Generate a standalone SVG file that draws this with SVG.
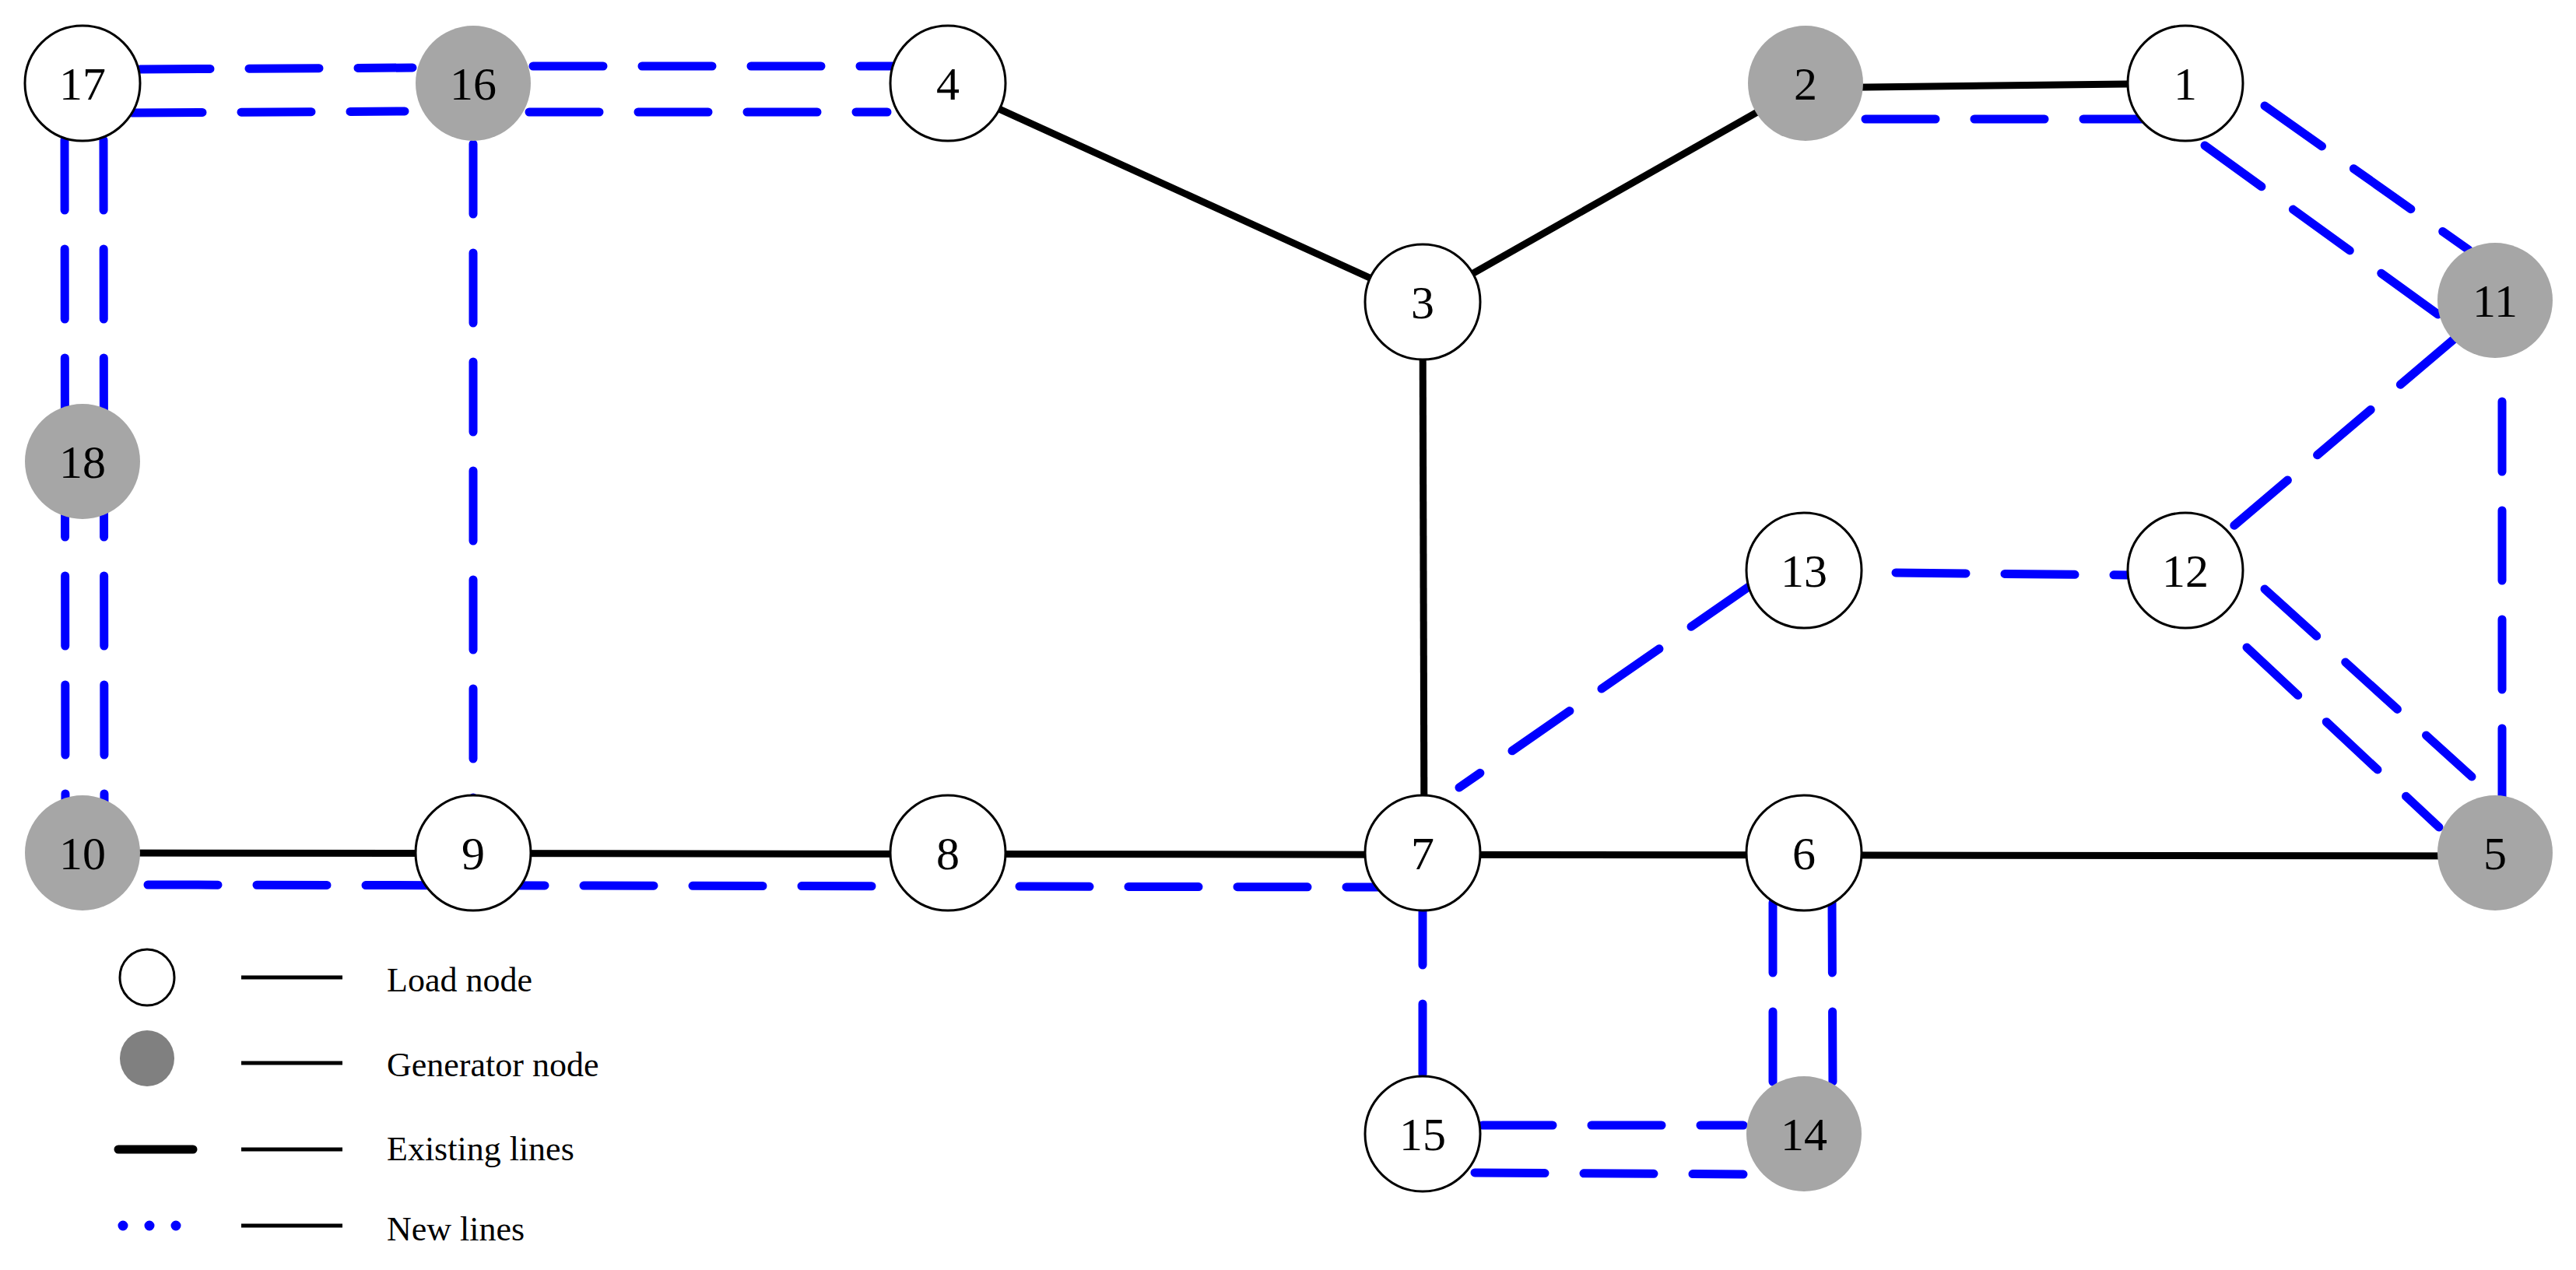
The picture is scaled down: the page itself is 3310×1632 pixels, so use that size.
<svg xmlns="http://www.w3.org/2000/svg" width="3310" height="1632" viewBox="0 0 3310 1632">
<style>
.ex{stroke:#000;stroke-width:9;fill:none}
.nw{stroke:#0000ff;stroke-width:11;fill:none;stroke-dasharray:90 50;stroke-linecap:round}
.ld{fill:#fff;stroke:#000;stroke-width:3}
.gn{fill:#a6a6a6;stroke:none}
.lb{font-family:"Liberation Serif",serif;font-size:60px;text-anchor:middle;fill:#000}
.lg{font-family:"Liberation Serif",serif;font-size:44px;fill:#000}
</style>
<rect width="3310" height="1632" fill="#fff"/>
<g id="connectors">
<line class="ex" x1="106" y1="1096" x2="3205" y2="1100"/>
<line class="ex" x1="1218" y1="110" x2="1828" y2="388"/>
<line class="ex" x1="1828" y1="388" x2="2318" y2="110"/>
<line class="ex" x1="1828" y1="388" x2="1830" y2="1096"/>
<line class="ex" x1="2318" y1="113" x2="2808" y2="107"/>
<line class="nw" x1="180" y1="89" x2="530" y2="87"/>
<line class="nw" x1="170" y1="145" x2="520" y2="143"/>
<line class="nw" x1="685" y1="85" x2="1160" y2="85"/>
<line class="nw" x1="680" y1="144" x2="1140" y2="144"/>
<line class="nw" x1="83" y1="180" x2="84" y2="1040"/>
<line class="nw" x1="133" y1="180" x2="134" y2="1040"/>
<line class="nw" x1="608" y1="185" x2="608" y2="1030"/>
<line class="nw" x1="190" y1="1137" x2="1780" y2="1140"/>
<line class="nw" x1="2397" y1="153" x2="2790" y2="153"/>
<line class="nw" x1="2910" y1="136" x2="3172" y2="321"/>
<line class="nw" x1="2833" y1="187" x2="3134" y2="405"/>
<line class="nw" x1="3153" y1="436" x2="2864" y2="681"/>
<line class="nw" x1="3215" y1="516" x2="3215" y2="1030"/>
<line class="nw" x1="2910" y1="757" x2="3176" y2="998"/>
<line class="nw" x1="2887" y1="832" x2="3134" y2="1063"/>
<line class="nw" x1="2436" y1="736" x2="2733" y2="739"/>
<line class="nw" x1="2247" y1="754" x2="1875" y2="1012"/>
<line class="nw" x1="1828" y1="1150" x2="1828" y2="1400"/>
<line class="nw" x1="2278" y1="1160" x2="2278" y2="1400"/>
<line class="nw" x1="2354" y1="1160" x2="2355" y2="1400"/>
<line class="nw" x1="1905" y1="1446" x2="2240" y2="1446"/>
<line class="nw" x1="1895" y1="1507" x2="2240" y2="1509"/>
</g>
<g id="n1"><circle class="ld" cx="2808" cy="107" r="74"/><text class="lb" x="2808" y="128">1</text></g>
<g id="n2"><circle class="gn" cx="2320" cy="107" r="74"/><text class="lb" x="2320" y="128">2</text></g>
<g id="n3"><circle class="ld" cx="1828" cy="388" r="74"/><text class="lb" x="1828" y="409">3</text></g>
<g id="n4"><circle class="ld" cx="1218" cy="107" r="74"/><text class="lb" x="1218" y="128">4</text></g>
<g id="n5"><circle class="gn" cx="3206" cy="1096" r="74"/><text class="lb" x="3206" y="1117">5</text></g>
<g id="n6"><circle class="ld" cx="2318" cy="1096" r="74"/><text class="lb" x="2318" y="1117">6</text></g>
<g id="n7"><circle class="ld" cx="1828" cy="1096" r="74"/><text class="lb" x="1828" y="1117">7</text></g>
<g id="n8"><circle class="ld" cx="1218" cy="1096" r="74"/><text class="lb" x="1218" y="1117">8</text></g>
<g id="n9"><circle class="ld" cx="608" cy="1096" r="74"/><text class="lb" x="608" y="1117">9</text></g>
<g id="n10"><circle class="gn" cx="106" cy="1096" r="74"/><text class="lb" x="106" y="1117">10</text></g>
<g id="n11"><circle class="gn" cx="3206" cy="386" r="74"/><text class="lb" x="3206" y="407">11</text></g>
<g id="n12"><circle class="ld" cx="2808" cy="733" r="74"/><text class="lb" x="2808" y="754">12</text></g>
<g id="n13"><circle class="ld" cx="2318" cy="733" r="74"/><text class="lb" x="2318" y="754">13</text></g>
<g id="n14"><circle class="gn" cx="2318" cy="1457" r="74"/><text class="lb" x="2318" y="1478">14</text></g>
<g id="n15"><circle class="ld" cx="1828" cy="1457" r="74"/><text class="lb" x="1828" y="1478">15</text></g>
<g id="n16"><circle class="gn" cx="608" cy="107" r="74"/><text class="lb" x="608" y="128">16</text></g>
<g id="n17"><circle class="ld" cx="106" cy="107" r="74"/><text class="lb" x="106" y="128">17</text></g>
<g id="n18"><circle class="gn" cx="106" cy="593" r="74"/><text class="lb" x="106" y="614">18</text></g>
<g id="legend">
<ellipse class="ld" cx="189" cy="1256" rx="35" ry="36"/>
<ellipse cx="189" cy="1360" rx="35" ry="36" fill="#808080"/>
<line x1="152" y1="1477" x2="248" y2="1477" stroke="#000" stroke-width="11" stroke-linecap="round"/>
<line x1="158" y1="1575" x2="238" y2="1575" stroke="#0000ff" stroke-width="13" stroke-linecap="round" stroke-dasharray="0 34"/>
<g stroke="#000" stroke-width="5">
<line x1="310" y1="1256" x2="440" y2="1256"/>
<line x1="310" y1="1366" x2="440" y2="1366"/>
<line x1="310" y1="1477" x2="440" y2="1477"/>
<line x1="310" y1="1575" x2="440" y2="1575"/>
</g>
<text class="lg" x="497" y="1274">Load node</text>
<text class="lg" x="497" y="1383">Generator node</text>
<text class="lg" x="497" y="1491">Existing lines</text>
<text class="lg" x="497" y="1594">New lines</text>
</g>
</svg>
